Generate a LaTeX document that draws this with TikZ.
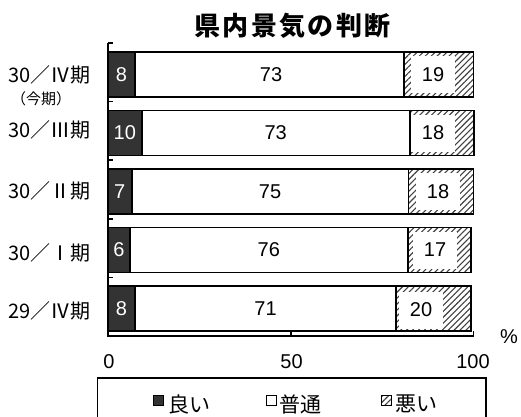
\documentclass[tikz,border=0pt]{standalone}
\usepackage{fontspec}
\setmainfont{Noto Sans CJK JP}
\newfontfamily\numfont{Liberation Sans}
\newcommand{\fw}[1]{\makebox[1em]{#1}}
\usetikzlibrary{patterns.meta}

\begin{document}
\begin{tikzpicture}[x=1pt,y=-1pt,
  bar/.style={draw=black,line width=1.6pt},
  good/.style={bar,fill=black!80},
  fair/.style={bar,fill=white},
  hatch/.style={pattern={Lines[angle=45,distance=4.2pt,line width=1.1pt]},pattern color=black!75},
  poor/.style={bar,hatch},
  ax/.style={line width=1.6pt},
  val/.style={inner sep=0pt,font=\fontsize{20}{20}\selectfont\numfont},
  goodval/.style={val,text=white},
  poorval/.style={val,fill=white,minimum width=44pt,minimum height=37pt},
  cat/.style={anchor=east,inner sep=0pt,font=\fontsize{20}{20}\selectfont},
  key/.style={anchor=west,inner sep=0pt,font=\fontsize{21}{21}\selectfont}]
\clip (0,0) rectangle (521,416);

% title
\node[font=\fontsize{26}{26}\selectfont\bfseries\addfontfeature{LetterSpace=9}] (title) at (292.5,26) {県内景気の判断};

% bars
\draw[fair] (135,52) rectangle (404,97);
\draw[poor] (404,52) rectangle (473.5,97);
\draw[good] (108,52) rectangle (135,97);
\draw[fair] (141.7,110.5) rectangle (409.7,155.5);
\draw[poor] (409.7,110.5) rectangle (474,155.5);
\draw[good] (108,110.5) rectangle (141.7,155.5);
\draw[fair] (131.7,169) rectangle (408.3,214);
\draw[poor] (408.3,169) rectangle (473.3,214);
\draw[good] (108,169) rectangle (131.7,214);
\draw[fair] (130,227.5) rectangle (407.7,272.5);
\draw[poor] (407.7,227.5) rectangle (471,272.5);
\draw[good] (108,227.5) rectangle (130,272.5);
\draw[fair] (135,286) rectangle (396,331);
\draw[poor] (396,286) rectangle (471,331);
\draw[good] (108,286) rectangle (135,331);

% values
\node[goodval] (g1) at (121.5,74.5) {8};
\node[val] (f1) at (271,74.5) {73};
\node[poorval] (p1) at (433,74.5) {19};
\node[goodval] (g2) at (124.8,133) {10};
\node[val] (f2) at (275.7,133) {73};
\node[poorval] (p2) at (433,133) {18};
\node[goodval] (g3) at (119.8,191.5) {7};
\node[val] (f3) at (270,191.5) {75};
\node[poorval] (p3) at (438,191.5) {18};
\node[goodval] (g4) at (119,250) {6};
\node[val] (f4) at (268.8,250) {76};
\node[poorval] (p4) at (435,250) {17};
\node[goodval] (g5) at (121.5,308.5) {8};
\node[val] (f5) at (265.5,308.5) {71};
\node[poorval] (p5) at (421,310) {20};

% axes
\draw[ax] (108,43) -- (108,336) -- (473.5,336);
\draw[ax] (108,43) -- (113,43) (108,101.6) -- (113,101.6) (108,160.2) -- (113,160.2)
  (108,218.8) -- (113,218.8) (108,277.4) -- (113,277.4);
\draw[ax] (290.7,336) -- (290.7,331) (473.5,336) -- (473.5,331);
\node[val] (t0) at (109,362) {0};
\node[val] (t50) at (291.5,362) {50};
\node[val] (t100) at (473,362) {100};
\node[val] (pct) at (509,337) {\%};

% categories
\node[cat] (c1) at (91,75) {30／\fw{Ⅳ}期};
\node[inner sep=0pt,font=\fontsize{15}{15}\selectfont] (c1b) at (41,99) {（今期）};
\node[cat] (c2) at (91,130) {30／\fw{Ⅲ}期};
\node[cat] (c3) at (91,191) {30／\fw{Ⅱ}期};
\node[cat] (c4) at (91,253) {30／\fw{Ⅰ}期};
\node[cat] (c5) at (91,311) {29／\fw{Ⅳ}期};

% legend
\draw[line width=1.6pt] (97.3,378) rectangle (486,440);
\draw[line width=1pt,fill=black!80] (153,395) rectangle (163,405);
\node[key] (kgood) at (168,404) {良い};
\draw[line width=1pt,fill=white] (266.7,395) rectangle (276.7,405);
\node[key] (kfair) at (279,404) {普通};
\draw[line width=1pt,hatch] (381.7,395) rectangle (391.7,405);
\node[key] (kpoor) at (395,404) {悪い};
\end{tikzpicture}
\end{document}
